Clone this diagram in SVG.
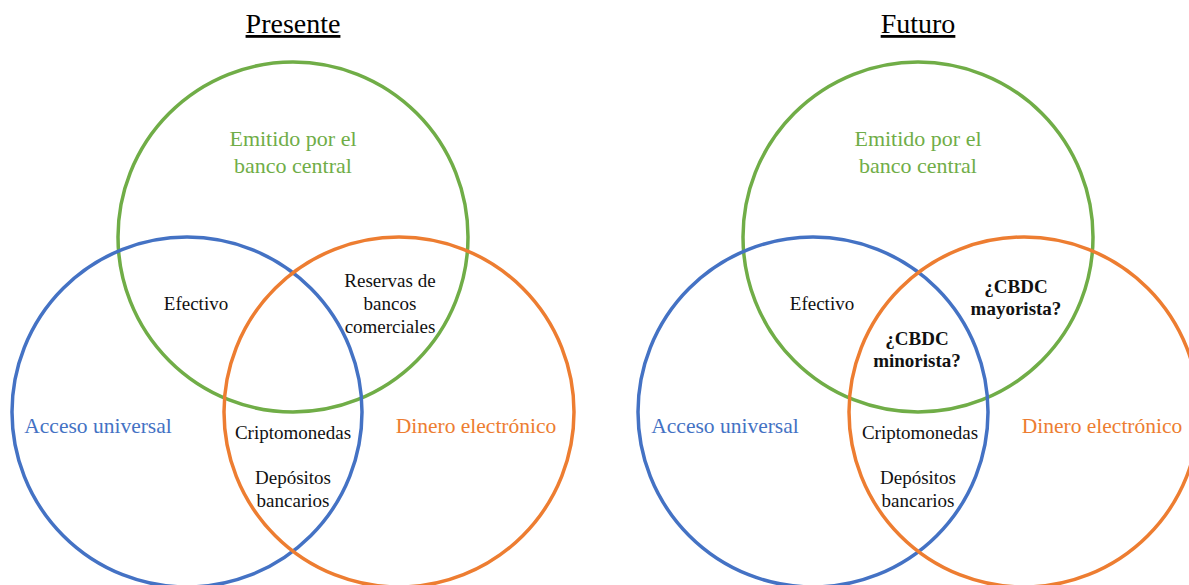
<svg xmlns="http://www.w3.org/2000/svg" width="1189" height="585" viewBox="0 0 1189 585">
<style>
  text { font-family: "Liberation Serif", "Times New Roman", serif; text-anchor: middle; }
  .c { fill: none; stroke-width: 3.5; }
  .g { stroke: #70AD47; }
  .b { stroke: #4472C4; }
  .o { stroke: #ED7D31; }
  .title { font-size: 28px; fill: #000; text-decoration: underline; }
  .lg { font-size: 22px; fill: #70AD47; }
  .lb { font-size: 21.5px; fill: #4472C4; }
  .lo { font-size: 21.5px; fill: #ED7D31; }
  .in { font-size: 19px; fill: #111; }
  .bold { font-size: 19px; fill: #111; font-weight: bold; }
</style>
<rect width="1189" height="585" fill="#fff"/>
<g id="presente">
  <text class="title" x="293" y="33">Presente</text>
  <g id="p-green"><circle class="c g" cx="293" cy="237" r="175"/>
    <text class="lg" x="293" y="146">Emitido por el</text>
    <text class="lg" x="293" y="173">banco central</text></g>
  <g id="p-blue"><circle class="c b" cx="187" cy="412" r="175"/>
    <text class="lb" x="98" y="433">Acceso universal</text></g>
  <g id="p-orange"><circle class="c o" cx="399" cy="412" r="175"/>
    <text class="lo" x="476" y="433">Dinero electrónico</text></g>
  <g id="p-efectivo"><text class="in" x="196" y="310">Efectivo</text></g>
  <g id="p-reservas">
    <text class="in" x="390" y="287">Reservas de</text>
    <text class="in" x="390" y="310">bancos</text>
    <text class="in" x="390" y="333">comerciales</text></g>
  <g id="p-cripto"><text class="in" x="293" y="439">Criptomonedas</text></g>
  <g id="p-depositos">
    <text class="in" x="293" y="484">Depósitos</text>
    <text class="in" x="293" y="507">bancarios</text></g>
</g>
<g id="futuro">
  <text class="title" x="918" y="33">Futuro</text>
  <g id="f-green"><circle class="c g" cx="918" cy="237" r="175"/>
    <text class="lg" x="918" y="146">Emitido por el</text>
    <text class="lg" x="918" y="173">banco central</text></g>
  <g id="f-blue"><circle class="c b" cx="813" cy="412" r="175"/>
    <text class="lb" x="725" y="433">Acceso universal</text></g>
  <g id="f-orange"><circle class="c o" cx="1024" cy="412" r="175"/>
    <text class="lo" x="1102" y="433">Dinero electrónico</text></g>
  <g id="f-efectivo"><text class="in" x="822" y="310">Efectivo</text></g>
  <g id="f-mayorista">
    <text class="bold" x="1016" y="293">¿CBDC</text>
    <text class="bold" x="1016" y="315">mayorista?</text></g>
  <g id="f-minorista">
    <text class="bold" x="917" y="345">¿CBDC</text>
    <text class="bold" x="917" y="367">minorista?</text></g>
  <g id="f-cripto"><text class="in" x="920" y="439">Criptomonedas</text></g>
  <g id="f-depositos">
    <text class="in" x="918" y="484">Depósitos</text>
    <text class="in" x="918" y="507">bancarios</text></g>
</g>
<g id="connectors"></g>
</svg>
